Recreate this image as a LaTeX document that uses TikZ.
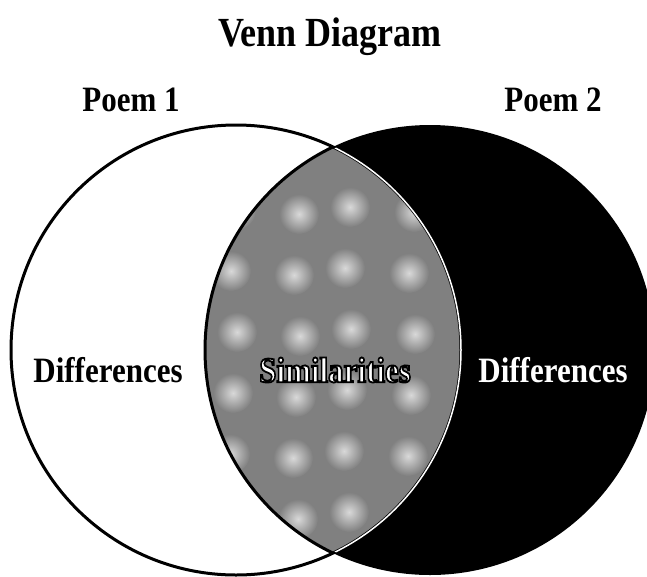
\documentclass[tikz,border=0pt]{standalone}
\usepackage{fontspec}
\setmainfont{Liberation Serif}
\usetikzlibrary{positioning}

% outlined text: white fill, black stroke
\newcommand\outltext[1]{\special{pdf:code q 2 Tr 1.6 w 0 0 0 RG 1 1 1 rg}#1\special{pdf:code Q}}

\begin{document}
\begin{tikzpicture}[x=1pt,y=-1pt,
  every node/.style={font=\bfseries\fontsize{31}{31}\selectfont, inner sep=0pt},
  ttl/.style={font=\bfseries\fontsize{36}{36}\selectfont},
  ring/.style={draw=black, line width=3pt},
  lens/.style={fill=black!50},
  spot/.style={inner color=white!85!black, outer color=black!50}]

\useasboundingbox[fill=white] (0,0) rectangle (647,576);

%% ---- circle centres ----
\coordinate (CA) at (236,350);
\coordinate (CB) at (430,350);

%% ---- right circle (black) ----
\fill[black] (CB) circle[radius=225pt];

%% ---- overlap with texture ----
\begin{scope}
  \clip (CA) circle[radius=225pt];
  \clip (CB) circle[radius=225pt];
  \fill[lens] (CB) circle[radius=225pt];
  \foreach \x/\dx in {233/0,292/4,350/-3,409/2}
    \foreach \y/\dy in {210/3,271/-2,332/4,393/0,454/-3,515/2}
      \shade[spot] (\x+\dx+\dy,\y+\dx) circle[radius=20pt];
\end{scope}

%% ---- outlines ----
\draw[ring] (CA) circle[radius=225pt];
\begin{scope}
  \clip (CA) circle[radius=225pt];
  \draw[ring] (CB) circle[radius=225pt];
\end{scope}
\begin{scope}
  \clip (CB) circle[radius=223pt];
  \draw[white, line width=1.5pt] (CA) circle[radius=225pt];
\end{scope}

%% ---- labels ----
\node[ttl] (TTL) at (330,37)  {\scalebox{1}[1.15]{Venn Diagram}};
\node      (PA)  at (131,100) {\scalebox{1}[1.15]{Poem 1}};
\node      (PB)  at (553,100) {\scalebox{1}[1.15]{Poem 2}};
\node      (DFA) at (108,370) {\scalebox{1}[1.15]{Differences}};
\node[text=white] (SIM) at (335,370) {\scalebox{1}[1.15]{\outltext{Similarities}}};
\node[text=white] (DFB) at (553,370) {\scalebox{1}[1.15]{Differences}};
\end{tikzpicture}
\end{document}
